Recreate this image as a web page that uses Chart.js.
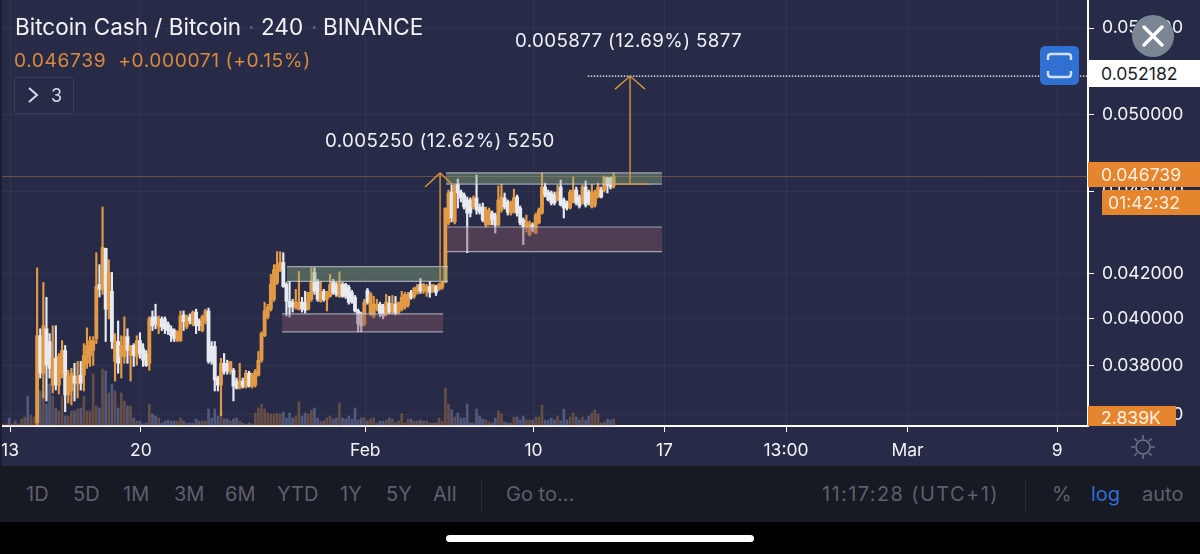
<!DOCTYPE html>
<html>
<head>
<meta charset="utf-8">
<title>Bitcoin Cash / Bitcoin</title>
<script src="https://cdn.jsdelivr.net/npm/chart.js@4"></script>
<style>
  html, body { margin: 0; padding: 0; width: 1200px; height: 554px; overflow: hidden; background: #000; font-family: Inter, sans-serif; }
  #plot { position: absolute; left: 0; top: 0; width: 1200px; height: 466px; background: #272b47; }
  #edge { position: absolute; left: 0; top: 0; width: 2px; height: 466px; background: #1b1e31; }
  canvas { position: absolute; left: 0; top: 0; }
  .t { position: absolute; white-space: nowrap; line-height: 1; }
  .box { position: absolute; display: flex; align-items: center; font-size: 17.6px; }
  #toolbar { position: absolute; left: 0; top: 466px; width: 1200px; height: 56px; background: #171923; }
  #toolbar .t { top: 18px; font-size: 20px; color: #5d606c; }
  #toolbar i { position: absolute; top: 13px; width: 1px; height: 32px; background: #2b2d38; }
  #home { position: absolute; left: 446px; top: 535px; width: 308px; height: 7px; border-radius: 4px; background: #fff; }
</style>
</head>
<body>
<div id="plot"></div>
<canvas id="chart" width="1200" height="554"></canvas>
<div id="edge"></div>

<div class="t" style="left:15px;top:16px;font-size:22.5px;color:#f2f3f7">Bitcoin Cash / Bitcoin</div>
<div class="t" style="left:248px;top:16px;font-size:22.5px;color:#5f6478">·</div>
<div class="t" style="left:261px;top:16px;font-size:22.5px;color:#f2f3f7">240</div>
<div class="t" style="left:311px;top:16px;font-size:22.5px;color:#5f6478">·</div>
<div class="t" style="left:323px;top:16px;font-size:22.5px;color:#f2f3f7">BINANCE</div>
<div class="t" style="left:14px;top:51px;font-size:19.2px;color:#d98a3c;letter-spacing:.6px">0.046739&nbsp; +0.000071 (+0.15%)</div>
<div style="position:absolute;left:14px;top:77px;width:58px;height:35px;border:1px solid #383d58;border-radius:4px"></div>
<svg style="position:absolute;left:26px;top:85px" width="14" height="20"><path d="M3 3 L11 10 L3 17" fill="none" stroke="#d8dbe8" stroke-width="2"/></svg>
<div class="t" style="left:51px;top:87px;font-size:18px;color:#d8dbe8">3</div>

<div class="t" style="left:515px;top:32px;font-size:18.8px;color:#eef0f5;letter-spacing:.35px">0.005877 (12.69%) 5877</div>
<div class="t" style="left:325px;top:132px;font-size:18.8px;color:#eef0f5;letter-spacing:.35px">0.005250 (12.62%) 5250</div>

<div class="box" style="left:1088px;top:60px;width:112px;height:27px;background:#fff;color:#1b1d2a"><span style="margin-left:13px">0.052182</span></div>
<div class="box" style="left:1088px;top:162px;width:112px;height:25px;background:#e5862f;color:#fbeee0"><span style="margin-left:13px">0.046739</span></div>
<div class="box" style="left:1102px;top:190px;width:98px;height:25px;background:#e5862f;color:#fbeee0"><span style="margin-left:6px">01:42:32</span></div>
<div class="box" style="left:1088px;top:406px;width:88px;height:20px;background:#e5862f;color:#fbeee0;overflow:hidden"><span style="margin-left:13px;margin-top:3px">2.839K</span></div>

<svg style="position:absolute;left:1040px;top:46px" width="39" height="39">
  <rect width="39" height="39" rx="5" fill="#2f70d2"/>
  <path d="M8 14 V11 Q8 8 11 8 H28 Q31 8 31 11 V14 M8 25 V28 Q8 31 11 31 H28 Q31 31 31 28 V25" fill="none" stroke="#cfe0f7" stroke-width="2.4"/>
</svg>
<svg style="position:absolute;left:1132px;top:15px" width="42" height="42">
  <circle cx="21" cy="21" r="21" fill="#7b8694"/>
  <path d="M12 12 L30 30 M30 12 L12 30" stroke="#fff" stroke-width="3.4" stroke-linecap="round"/>
</svg>
<svg style="position:absolute;left:1131px;top:435px" width="24" height="24">
  <g fill="none" stroke="#6f7488" stroke-width="1.6"><circle cx="12" cy="12" r="7"/>
  <path d="M12 0 V4 M12 20 V24 M0 12 H4 M20 12 H24 M3.5 3.5 L6 6 M18 18 L20.5 20.5 M3.5 20.5 L6 18 M18 6 L20.5 3.5"/></g>
</svg>

<div id="toolbar">
  <div class="t" style="left:26px">1D</div>
  <div class="t" style="left:73px">5D</div>
  <div class="t" style="left:123px">1M</div>
  <div class="t" style="left:174px">3M</div>
  <div class="t" style="left:225px">6M</div>
  <div class="t" style="left:277px">YTD</div>
  <div class="t" style="left:340px">1Y</div>
  <div class="t" style="left:386px">5Y</div>
  <div class="t" style="left:433px">All</div>
  <i style="left:481px"></i>
  <div class="t" style="left:506px">Go to...</div>
  <div class="t" style="left:822px;letter-spacing:1.4px">11:17:28 (UTC+1)</div>
  <i style="left:1025px"></i>
  <div class="t" style="left:1052px">%</div>
  <div class="t" style="left:1091px;color:#2f70d2">log</div>
  <div class="t" style="left:1142px">auto</div>
</div>
<div id="home"></div>

<script>
// 4h candles, first one is 14 Jan around midday
const firstCandleDay = 1.45;

const opens = [0.03567,0.03925,0.03767,0.03955,0.03900,0.03718,0.03829,0.03718,0.03767,0.03862,0.03678,0.03694,0.03755,0.03722,0.03759,0.03759,0.03808,0.03841,0.03862,0.03912,
  0.04152,0.04130,0.04320,0.04041,0.04121,0.03816,0.03900,0.03837,0.03837,0.03921,0.03841,0.03883,0.03837,0.03904,0.03870,0.03849,0.03808,0.04007,0.04007,0.03963,
  0.03998,0.03998,0.03976,0.03955,0.03947,0.03904,0.03904,0.04015,0.03963,0.04007,0.03976,0.04028,0.03989,0.03947,0.03989,0.04033,0.03879,0.03879,0.03747,0.03718,
  0.03808,0.03808,0.03775,0.03779,0.03735,0.03706,0.03735,0.03710,0.03767,0.03714,0.03718,0.03759,0.03821,0.03925,0.04007,0.04041,0.04085,0.04161,0.04220,0.04253,
  0.04152,0.04076,0.04072,0.04050,0.04041,0.04072,0.04072,0.04041,0.04085,0.04207,0.04166,0.04076,0.04121,0.04085,0.04098,0.04166,0.04152,0.04098,0.04152,0.04152,
  0.04139,0.04116,0.04094,0.04033,0.04020,0.03976,0.04125,0.04020,0.04011,0.04041,0.04063,0.04054,0.04020,0.04067,0.04028,0.04063,0.04028,0.04041,0.04050,0.04058,
  0.04116,0.04098,0.04116,0.04152,0.04121,0.04121,0.04143,0.04121,0.04143,0.04130,0.04139,0.04161,0.04442,0.04595,0.04447,0.04635,0.04595,0.04580,0.04555,0.04555,
  0.04520,0.04565,0.04520,0.04520,0.04432,0.04432,0.04490,0.04480,0.04432,0.04505,0.04565,0.04545,0.04490,0.04495,0.04570,0.04515,0.04456,0.04417,0.04384,0.04432,
  0.04393,0.04442,0.04490,0.04620,0.04595,0.04590,0.04580,0.04555,0.04620,0.04555,0.04540,0.04515,0.04545,0.04605,0.04570,0.04540,0.04620,0.04595,0.04520,0.04530,
  0.04570,0.04605,0.04605,0.04666,0.04666,0.04625];

const closes = [0.03925,0.03767,0.03968,0.03800,0.03787,0.03829,0.03718,0.03837,0.03862,0.03678,0.03755,0.03767,0.03726,0.03755,0.03726,0.03841,0.03883,0.03904,0.03904,0.04143,
  0.04130,0.04325,0.04041,0.04207,0.03900,0.03900,0.03808,0.03883,0.03921,0.03862,0.03883,0.03841,0.03904,0.03849,0.03821,0.03800,0.03998,0.03968,0.03976,0.03998,
  0.03963,0.03955,0.03947,0.03925,0.03912,0.03942,0.04011,0.03985,0.04007,0.03989,0.04028,0.03968,0.03968,0.04007,0.04033,0.03816,0.03816,0.03739,0.03718,0.03808,
  0.03775,0.03775,0.03816,0.03714,0.03706,0.03735,0.03714,0.03767,0.03714,0.03759,0.03775,0.03821,0.03934,0.04033,0.04050,0.04152,0.04220,0.04243,0.04253,0.04143,
  0.04076,0.04050,0.04050,0.04072,0.04072,0.04041,0.04037,0.04116,0.04161,0.04121,0.04085,0.04116,0.04085,0.04116,0.04152,0.04116,0.04107,0.04161,0.04098,0.04098,
  0.04072,0.04076,0.04033,0.03976,0.03968,0.04072,0.04072,0.04107,0.04063,0.04063,0.04024,0.04011,0.04072,0.04028,0.04067,0.04024,0.04072,0.04094,0.04107,0.04107,
  0.04094,0.04134,0.04143,0.04121,0.04152,0.04143,0.04116,0.04152,0.04116,0.04152,0.04161,0.04515,0.04590,0.04466,0.04630,0.04590,0.04565,0.04520,0.04490,0.04490,
  0.04565,0.04505,0.04495,0.04456,0.04505,0.04505,0.04456,0.04432,0.04555,0.04570,0.04520,0.04495,0.04540,0.04565,0.04490,0.04442,0.04422,0.04447,0.04442,0.04408,
  0.04480,0.04505,0.04620,0.04580,0.04555,0.04540,0.04540,0.04595,0.04530,0.04515,0.04515,0.04595,0.04605,0.04540,0.04525,0.04620,0.04530,0.04540,0.04595,0.04595,
  0.04620,0.04570,0.04671,0.04630,0.04620,0.04674];

const highs = [0.04228,0.03955,0.04161,0.04094,0.03934,0.03968,0.03968,0.03849,0.03904,0.03883,0.03779,0.03787,0.03808,0.03816,0.03816,0.03891,0.03959,0.03921,0.03921,0.04299,
  0.04243,0.04520,0.04320,0.04266,0.04207,0.03934,0.03989,0.03925,0.04007,0.03955,0.03883,0.03891,0.03925,0.03938,0.03891,0.03862,0.04007,0.04033,0.04063,0.04011,
  0.04007,0.04007,0.03985,0.03968,0.03955,0.03947,0.04033,0.04033,0.04015,0.04020,0.04033,0.04041,0.03998,0.04015,0.04041,0.04046,0.03900,0.03900,0.03755,0.03829,
  0.03849,0.03821,0.03816,0.03787,0.03747,0.03808,0.03747,0.03779,0.03775,0.03767,0.03783,0.03858,0.03942,0.04072,0.04063,0.04198,0.04243,0.04304,0.04304,0.04299,
  0.04161,0.04166,0.04085,0.04130,0.04211,0.04094,0.04121,0.04116,0.04229,0.04229,0.04175,0.04166,0.04130,0.04121,0.04198,0.04175,0.04161,0.04210,0.04161,0.04157,
  0.04148,0.04125,0.04102,0.04041,0.04028,0.04085,0.04134,0.04116,0.04098,0.04085,0.04072,0.04063,0.04107,0.04098,0.04102,0.04098,0.04072,0.04121,0.04116,0.04116,
  0.04125,0.04139,0.04152,0.04179,0.04157,0.04152,0.04166,0.04152,0.04148,0.04157,0.04166,0.04515,0.04605,0.04630,0.04630,0.04661,0.04605,0.04590,0.04570,0.04565,
  0.04575,0.04681,0.04535,0.04540,0.04520,0.04515,0.04500,0.04490,0.04625,0.04635,0.04590,0.04555,0.04550,0.04610,0.04580,0.04525,0.04466,0.04480,0.04451,0.04442,
  0.04490,0.04515,0.04692,0.04640,0.04605,0.04600,0.04595,0.04630,0.04656,0.04565,0.04550,0.04605,0.04671,0.04620,0.04580,0.04630,0.04651,0.04605,0.04635,0.04605,
  0.04641,0.04620,0.04676,0.04671,0.04671,0.04692];

const lows = [0.03560,0.03747,0.03666,0.03654,0.03747,0.03686,0.03698,0.03682,0.03747,0.03611,0.03646,0.03638,0.03654,0.03666,0.03698,0.03694,0.03787,0.03795,0.03800,0.03891,
  0.04095,0.04107,0.03900,0.03998,0.03870,0.03735,0.03767,0.03747,0.03808,0.03808,0.03735,0.03795,0.03800,0.03829,0.03795,0.03795,0.03779,0.03947,0.03955,0.03934,
  0.03947,0.03934,0.03930,0.03900,0.03900,0.03900,0.03900,0.03947,0.03955,0.03976,0.03968,0.03934,0.03947,0.03942,0.03976,0.03808,0.03804,0.03694,0.03694,0.03595,
  0.03763,0.03763,0.03763,0.03654,0.03702,0.03702,0.03706,0.03706,0.03710,0.03706,0.03710,0.03755,0.03812,0.03921,0.03998,0.04033,0.04076,0.04152,0.04211,0.04139,
  0.04011,0.04007,0.04028,0.04041,0.04037,0.04028,0.04024,0.04037,0.04076,0.04107,0.04076,0.04072,0.04076,0.04033,0.04094,0.04107,0.04098,0.04094,0.04094,0.04089,
  0.04063,0.04067,0.04028,0.03942,0.03942,0.03968,0.04063,0.04011,0.04002,0.04033,0.04007,0.03998,0.04011,0.04020,0.04020,0.04015,0.04020,0.04033,0.04041,0.04050,
  0.04085,0.04089,0.04107,0.04111,0.04111,0.04098,0.04094,0.04116,0.04102,0.04125,0.04130,0.04161,0.04432,0.04447,0.04437,0.04515,0.04545,0.04510,0.04299,0.04471,
  0.04510,0.04485,0.04485,0.04447,0.04422,0.04432,0.04432,0.04393,0.04427,0.04495,0.04510,0.04480,0.04480,0.04490,0.04475,0.04432,0.04337,0.04398,0.04379,0.04398,
  0.04389,0.04437,0.04485,0.04570,0.04550,0.04530,0.04530,0.04550,0.04525,0.04466,0.04505,0.04510,0.04540,0.04530,0.04515,0.04535,0.04520,0.04530,0.04515,0.04520,
  0.04565,0.04565,0.04595,0.04590,0.04610,0.04615];

// volume in K, one per candle
const volumes = [12,14,13.2,8.8,16.8,12,7.2,6,12,4,4,6,6,6.8,7.2,12,6,6,20.8,8,7.2,22.8,22,13.2,16.8,14,7.2,13.2,10,8,8,3.2,2,2,0.8,1.2,8.8,4.8,4,3.2,
  1.2,2,2.4,2,2,2,3.2,2,1.2,1.2,1.2,2.8,2,2,2,6.8,3.2,6.8,4,6,2.8,2.8,2,2.8,3.2,2,1.2,0.8,1.2,0.8,5.2,7.2,8.8,6.8,5.2,4.8,4.8,5.2,4.8,5.6,
  3.2,5.2,3.2,4,9.6,4,5.2,4.8,6.4,7.2,3.2,2,2,3.2,4,2.8,3.2,9.2,3.2,2.8,4,2.8,7.2,2.4,3.2,3.2,2,2.8,3.2,1.2,2,2,2.4,3.2,2.8,1.2,2,4.8,1.2,2.8,
  2.8,2,2,2.4,2,2,1.2,1.2,1.2,3.2,2,15.2,8.8,6.4,3.6,5.2,3.2,3.2,8.8,1.2,1.2,6.8,4,2.8,2.4,1.6,1.2,3.2,6,4.8,1.6,1.2,1.2,3.6,3.6,2.4,4,2.4,2.4,2.4,
  3.6,3.6,8.4,2.4,2.4,3.2,2.4,4,2,6.8,2.4,3.6,5.2,3.6,2.4,3.6,2.4,4,5.2,6.4,4.8,1.2,1.6,2.8,2.4,2.839];

// the candles before the first visible one are below the price range, only their volume shows
const earlyVolumes = [0.8,0.8,3.2,0.8,2,0.8,2.8,3.6,12,4.4,3.6];

const priceTicks = [0.036, 0.038, 0.04, 0.042, 0.046, 0.05, 0.055];
const dayTicks = [0, 7, 19, 28, 35, 41.5, 48, 56];
const dayLabels = ['13', '20', 'Feb', '10', '17', '13:00', 'Mar', '9'];

const lastPrice = 0.046739;
const targetPrice = 0.052182;

// drawn zones: [startDay, endDay, topPrice, bottomPrice]
const greenZones = [[14.81, 23.42, 0.04234, 0.04166], [23.32, 34.87, 0.04692, 0.04635]];
const pinkZones = [[14.55, 23.16, 0.04020, 0.03942], [23.37, 34.87, 0.04422, 0.04304]];
// measure arrows: [day, fromPrice, toPrice, headPrice]
const arrows = [[23.0, 0.04161, 0.04692, 0.04620], [33.16, 0.04635, 0.05218, 0.05144]];
const targetLineStartDay = 30.9;
const baseLine = [32.19, 34.22, 0.04635];

const ORANGE = '#e39a45';
const WHITE = '#e8eaf2';
const VOL_UP = 'rgba(205,135,65,0.38)';
const VOL_DOWN = 'rgba(140,155,200,0.42)';

const isUp = closes.map((c, i) => c >= opens[i]);
const candleDay = i => firstCandleDay + i / 6;

const bodies = opens.map((o, i) => ({ x: candleDay(i), y: [Math.min(o, closes[i]), Math.max(o, closes[i])] }));
const wicks = highs.map((h, i) => ({ x: candleDay(i), y: [lows[i], h] }));
const volumePoints = earlyVolumes.map((v, i) => ({ x: candleDay(i - earlyVolumes.length), y: v }))
  .concat(volumes.map((v, i) => ({ x: candleDay(i), y: v })));
const volumeColors = earlyVolumes.map((v, i) => (i % 3 === 2 ? VOL_DOWN : VOL_UP))
  .concat(isUp.map(up => (up ? VOL_UP : VOL_DOWN)));
const candleColors = isUp.map(up => (up ? ORANGE : WHITE));

// zones, arrows and price lines go on top of the candles
const drawingsPlugin = {
  id: 'drawings',
  afterDatasetsDraw(chart) {
    const { ctx, chartArea } = chart;
    const xs = chart.scales.x, ys = chart.scales.y;
    ctx.save();

    ctx.strokeStyle = 'rgba(226,140,60,0.38)';
    ctx.lineWidth = 1;
    ctx.beginPath();
    ctx.moveTo(chartArea.left, ys.getPixelForValue(lastPrice));
    ctx.lineTo(chartArea.right, ys.getPixelForValue(lastPrice));
    ctx.stroke();

    const drawZone = (zone, fill) => {
      const left = xs.getPixelForValue(zone[0]), right = xs.getPixelForValue(zone[1]);
      const top = ys.getPixelForValue(zone[2]), bottom = ys.getPixelForValue(zone[3]);
      ctx.fillStyle = fill;
      ctx.fillRect(left, top, right - left, bottom - top);
      ctx.strokeStyle = 'rgba(205,205,215,0.7)';
      ctx.lineWidth = 1.2;
      ctx.beginPath();
      ctx.moveTo(left, top); ctx.lineTo(right, top);
      ctx.moveTo(left, bottom); ctx.lineTo(right, bottom);
      ctx.stroke();
    };
    greenZones.forEach(z => drawZone(z, 'rgba(140,174,127,0.42)'));
    pinkZones.forEach(z => drawZone(z, 'rgba(128,85,100,0.45)'));

    ctx.strokeStyle = '#fff';
    ctx.lineWidth = 1.2;
    ctx.setLineDash([1.5, 1.5]);
    ctx.beginPath();
    ctx.moveTo(xs.getPixelForValue(targetLineStartDay), ys.getPixelForValue(targetPrice));
    ctx.lineTo(chartArea.right, ys.getPixelForValue(targetPrice));
    ctx.stroke();
    ctx.setLineDash([]);

    ctx.strokeStyle = '#d9963f';
    ctx.lineWidth = 1.4;
    arrows.forEach(a => {
      const x = xs.getPixelForValue(a[0]);
      const tip = ys.getPixelForValue(a[2]), head = ys.getPixelForValue(a[3]);
      ctx.beginPath();
      ctx.moveTo(x, ys.getPixelForValue(a[1]));
      ctx.lineTo(x, tip);
      ctx.moveTo(x - 15, head);
      ctx.lineTo(x, tip);
      ctx.lineTo(x + 15, head);
      ctx.stroke();
    });
    ctx.beginPath();
    ctx.moveTo(xs.getPixelForValue(baseLine[0]), ys.getPixelForValue(baseLine[2]));
    ctx.lineTo(xs.getPixelForValue(baseLine[1]), ys.getPixelForValue(baseLine[2]));
    ctx.stroke();

    ctx.restore();
  }
};

new Chart(document.getElementById('chart'), {
  type: 'bar',
  data: {
    datasets: [
      { data: bodies, backgroundColor: candleColors, barThickness: 3.2, grouped: false, order: 1, yAxisID: 'y' },
      { data: wicks, backgroundColor: candleColors, barThickness: 1.5, grouped: false, order: 2, yAxisID: 'y' },
      { data: volumePoints, backgroundColor: volumeColors, barThickness: 2, grouped: false, order: 3, yAxisID: 'vol' }
    ]
  },
  options: {
    responsive: false,
    animation: false,
    layout: { padding: 0 },
    plugins: { legend: { display: false }, tooltip: { enabled: false } },
    scales: {
      x: {
        type: 'linear',
        min: -0.535,
        max: 57.65,
        offset: false,
        position: 'bottom',
        afterFit: s => { s.height = 128; s.paddingLeft = 0; s.paddingRight = 0; },
        afterBuildTicks: s => { s.ticks = dayTicks.map(value => ({ value })); },
        grid: { offset: false, color: 'rgba(255,255,255,0.04)', tickColor: '#fff', tickLength: 6 },
        border: { color: '#fff', width: 2 },
        ticks: {
          autoSkip: false,
          maxRotation: 0,
          padding: 8,
          color: '#f2f3f7',
          font: { family: 'Inter', size: 17.5 },
          callback: value => dayLabels[dayTicks.indexOf(value)]
        }
      },
      y: {
        type: 'logarithmic',
        min: 0.03555,
        max: 0.05672,
        position: 'right',
        afterFit: s => { s.width = 112; s.paddingTop = 0; s.paddingBottom = 0; },
        afterBuildTicks: s => { s.ticks = priceTicks.map(value => ({ value })); },
        grid: { color: 'rgba(255,255,255,0.04)', tickColor: '#fff', tickLength: 6 },
        border: { color: '#fff', width: 2 },
        ticks: {
          autoSkip: false,
          padding: 8,
          color: '#f2f3f7',
          font: { family: 'Inter', size: 17.6 },
          callback: value => value.toFixed(6)
        }
      },
      vol: { type: 'linear', display: false, min: 0, max: 170.4 }
    }
  },
  plugins: [drawingsPlugin]
});
</script>
</body>
</html>
